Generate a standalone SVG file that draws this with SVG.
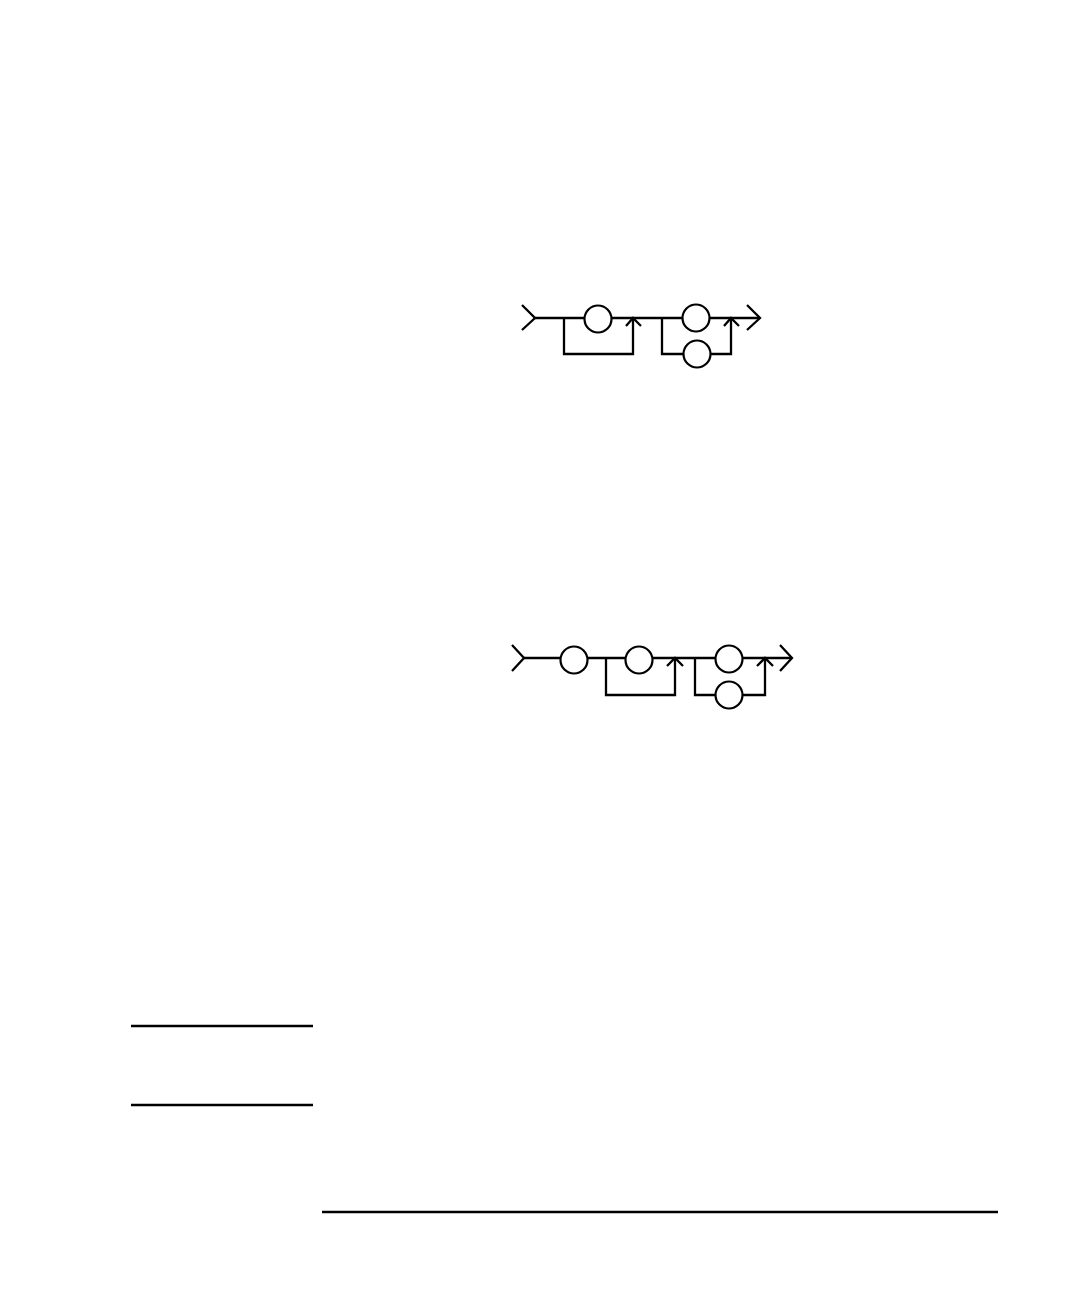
<svg xmlns="http://www.w3.org/2000/svg" width="1080" height="1296" viewBox="0 0 1080 1296">
<style>
.ln{fill:none;stroke:#000;stroke-width:2.3;stroke-linejoin:miter;stroke-linecap:butt}
.nd{fill:#fff;stroke:#000;stroke-width:2.2}
.rule{stroke:#000;stroke-width:2.3}
</style>
<rect width="1080" height="1296" fill="#fff"/>
<g id="diagram1">
<g id="d1-connectors">
<path class="ln" d="M522,305 L535,318 L522,330"/>
<path class="ln" d="M535,318 H760"/>
<path class="ln" d="M564,318 V354 H633 V318"/>
<path class="ln" d="M626,326 L633,318 L641,326"/>
<path class="ln" d="M662,318 V354 H731 V318"/>
<path class="ln" d="M724,326 L731,318 L739,326"/>
<path class="ln" d="M747,305 L760,318 L747,330"/>
</g>
<g id="d1-n1"><circle class="nd" cx="598" cy="319" r="13.5"/></g>
<g id="d1-n2"><circle class="nd" cx="696" cy="318" r="13.5"/></g>
<g id="d1-n3"><circle class="nd" cx="697" cy="354" r="13.5"/></g>
</g>
<g id="diagram2">
<g id="d2-connectors">
<path class="ln" d="M512,645 L524,658 L512,671"/>
<path class="ln" d="M524,658 H792"/>
<path class="ln" d="M606,658 V695 H675 V658"/>
<path class="ln" d="M667,666 L675,658 L683,666"/>
<path class="ln" d="M695,658 V695 H765 V658"/>
<path class="ln" d="M757,666 L765,658 L773,666"/>
<path class="ln" d="M780,645 L792,658 L780,671"/>
</g>
<g id="d2-n1"><circle class="nd" cx="574" cy="660" r="13.5"/></g>
<g id="d2-n2"><circle class="nd" cx="639" cy="660" r="13.5"/></g>
<g id="d2-n3"><circle class="nd" cx="729" cy="659" r="13.5"/></g>
<g id="d2-n4"><circle class="nd" cx="729" cy="695" r="13.5"/></g>
</g>
<g id="rules">
<line class="rule" x1="131" y1="1026" x2="313" y2="1026"/>
<line class="rule" x1="131" y1="1105" x2="313" y2="1105"/>
<line class="rule" x1="322" y1="1212" x2="998" y2="1212"/>
</g>
</svg>
